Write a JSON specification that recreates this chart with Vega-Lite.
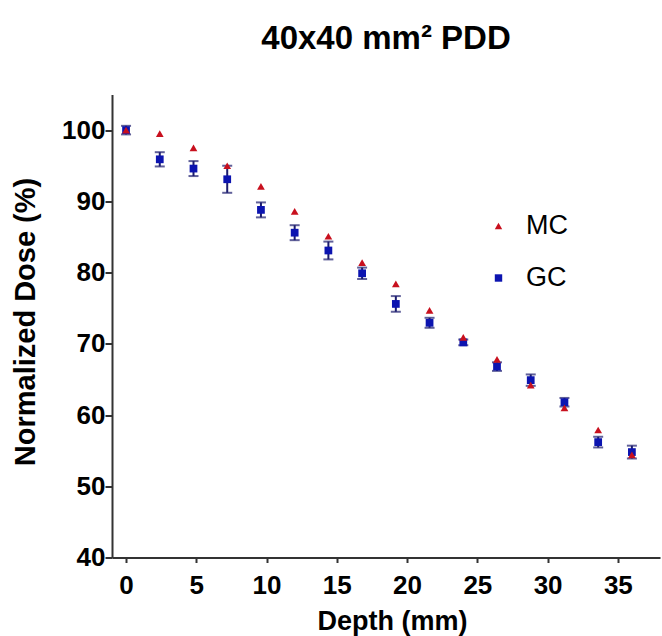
{
  "$schema": "https://vega.github.io/schema/vega-lite/v6.json",
  "autosize": "none",
  "width": 548,
  "height": 463,
  "padding": {"left": 112, "top": 94.5, "right": 2, "bottom": 78.5},
  "background": "white",
  "config": {
    "view": {"stroke": null},
    "font": "Liberation Sans"
  },
  "title": {
    "text": "40x40 mm² PDD",
    "font": "Liberation Sans",
    "fontSize": 33,
    "fontWeight": "bold",
    "color": "black",
    "anchor": "middle",
    "baseline": "alphabetic",
    "offset": 13
  },
  "data": {
    "values": [
      {"depth": 0.0, "series": "GC", "dose": 100.0, "err": 0.6},
      {"depth": 2.4, "series": "GC", "dose": 95.9, "err": 1.0},
      {"depth": 4.8, "series": "GC", "dose": 94.6, "err": 1.05},
      {"depth": 7.2, "series": "GC", "dose": 93.1, "err": 1.9},
      {"depth": 9.6, "series": "GC", "dose": 88.8, "err": 1.05},
      {"depth": 12.0, "series": "GC", "dose": 85.6, "err": 1.05},
      {"depth": 14.4, "series": "GC", "dose": 83.1, "err": 1.25},
      {"depth": 16.8, "series": "GC", "dose": 79.9, "err": 0.8},
      {"depth": 19.2, "series": "GC", "dose": 75.6, "err": 1.1},
      {"depth": 21.6, "series": "GC", "dose": 72.95, "err": 0.7},
      {"depth": 24.0, "series": "GC", "dose": 70.2, "err": 0.4},
      {"depth": 26.4, "series": "GC", "dose": 66.8, "err": 0.6},
      {"depth": 28.8, "series": "GC", "dose": 64.9, "err": 0.8},
      {"depth": 31.2, "series": "GC", "dose": 61.8, "err": 0.6},
      {"depth": 33.6, "series": "GC", "dose": 56.2, "err": 0.75},
      {"depth": 36.0, "series": "GC", "dose": 54.8, "err": 0.9},
      {"depth": 0.0, "series": "MC", "dose": 100.0},
      {"depth": 2.4, "series": "MC", "dose": 99.5},
      {"depth": 4.8, "series": "MC", "dose": 97.5},
      {"depth": 7.2, "series": "MC", "dose": 95.0},
      {"depth": 9.6, "series": "MC", "dose": 92.1},
      {"depth": 12.0, "series": "MC", "dose": 88.6},
      {"depth": 14.4, "series": "MC", "dose": 85.1},
      {"depth": 16.8, "series": "MC", "dose": 81.4},
      {"depth": 19.2, "series": "MC", "dose": 78.4},
      {"depth": 21.6, "series": "MC", "dose": 74.7},
      {"depth": 24.0, "series": "MC", "dose": 70.9},
      {"depth": 26.4, "series": "MC", "dose": 67.8},
      {"depth": 28.8, "series": "MC", "dose": 64.2},
      {"depth": 31.2, "series": "MC", "dose": 61.0},
      {"depth": 33.6, "series": "MC", "dose": 57.9},
      {"depth": 36.0, "series": "MC", "dose": 54.4}
    ]
  },
  "encoding": {
    "x": {
      "field": "depth",
      "type": "quantitative",
      "scale": {"domain": [-1, 38], "nice": false, "zero": false},
      "axis": {
        "title": "Depth (mm)",
        "values": [0, 5, 10, 15, 20, 25, 30, 35],
        "grid": false,
        "domainColor": "#333333",
        "domainWidth": 2,
        "tickColor": "#333333",
        "tickWidth": 2,
        "tickSize": 5,
        "labelFont": "Liberation Sans",
        "labelFontSize": 26,
        "labelFontWeight": "bold",
        "labelColor": "black",
        "labelPadding": 10,
        "titleFont": "Liberation Sans",
        "titleFontSize": 27,
        "titleFontWeight": "bold",
        "titleColor": "black",
        "titleX": 280,
        "titleY": 72,
        "titleBaseline": "alphabetic",
        "titleAnchor": null
      }
    },
    "y": {
      "field": "dose",
      "type": "quantitative",
      "scale": {"domain": [40, 105], "nice": false, "zero": false},
      "axis": {
        "title": "Normalized Dose (%)",
        "values": [40, 50, 60, 70, 80, 90, 100],
        "grid": false,
        "domainColor": "#333333",
        "domainWidth": 2,
        "tickColor": "#333333",
        "tickWidth": 2,
        "tickSize": 7,
        "labelFont": "Liberation Sans",
        "labelFontSize": 26,
        "labelFontWeight": "bold",
        "labelColor": "black",
        "labelPadding": 0,
        "titleFont": "Liberation Sans",
        "titleFontSize": 29,
        "titleFontWeight": "bold",
        "titleColor": "black",
        "titleAngle": -90,
        "titleX": -87,
        "titleY": 227,
        "titleAlign": "center",
        "titleBaseline": "middle"
      }
    }
  },
  "layer": [
    {
      "transform": [{"filter": "datum.series === 'GC'"}],
      "mark": {"type": "errorbar", "ticks": {"thickness": 2, "size": 10}, "thickness": 2, "color": "#1c1c6e"},
      "encoding": {
        "yError": {"field": "err"}
      }
    },
    {
      "mark": {"type": "point", "filled": true, "opacity": 1, "size": 60},
      "encoding": {
        "color": {
          "field": "series",
          "type": "nominal",
          "scale": {"domain": ["MC", "GC"], "range": ["#c8101e", "#0c14b0"]},
          "legend": {
            "title": null,
            "orient": "none",
            "legendX": 373,
            "legendY": 118,
            "padding": 0,
            "rowPadding": 24,
            "labelFont": "Liberation Sans",
            "labelFontSize": 27,
            "labelColor": "black",
            "labelOffset": 14,
            "symbolSize": 55
          }
        },
        "shape": {
          "field": "series",
          "type": "nominal",
          "scale": {"domain": ["MC", "GC"], "range": ["triangle-up", "square"]},
          "legend": null
        }
      }
    }
  ]
}
